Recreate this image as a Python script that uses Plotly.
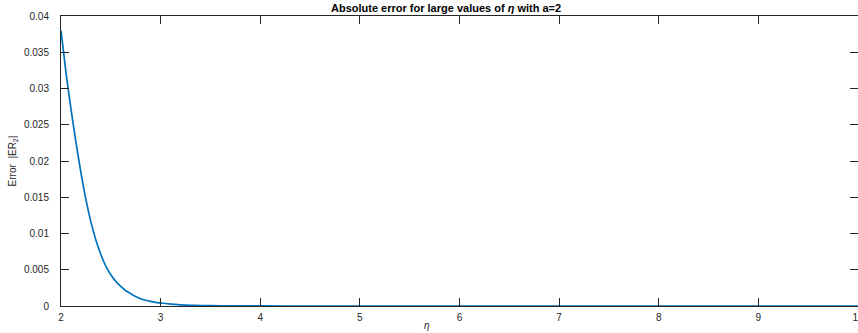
import plotly.graph_objects as go

# Absolute error |ER_2| vs eta (a=2)
eta = [2.00, 2.05, 2.10, 2.15, 2.20, 2.25, 2.30, 2.35, 2.40, 2.45, 2.50,
       2.55, 2.60, 2.65, 2.70, 2.75, 2.80, 2.85, 2.90, 2.95, 3.00,
       3.10, 3.20, 3.30, 3.40, 3.50, 3.75, 4.00, 4.50, 5.00, 6.00,
       7.00, 8.00, 9.00, 10.00]
err = [0.0380, 0.0322, 0.0272, 0.0226, 0.0184, 0.0147, 0.0116, 0.0091, 0.0071, 0.0055, 0.0043,
       0.0034, 0.0027, 0.0021, 0.0017, 0.0013, 0.0010, 0.00079, 0.00063, 0.00051, 0.00041,
       0.00026, 0.00016, 0.00010, 0.00006, 0.00004, 0.00001, 0.000004, 0.000001, 0.0, 0.0,
       0.0, 0.0, 0.0, 0.0]

x_ticks = [2, 3, 4, 5, 6, 7, 8, 9, 10]
y_ticks = [0, 0.005, 0.01, 0.015, 0.02, 0.025, 0.03, 0.035, 0.04]
y_tick_text = ["0", "0.005", "0.01", "0.015", "0.02", "0.025", "0.03", "0.035", "0.04"]

FONT = "Liberation Sans, Arial, Helvetica, sans-serif"
AX = "#262626"

fig = go.Figure()
fig.add_trace(go.Scatter(x=eta, y=err, mode="lines", line=dict(color="#0072BD", width=1.7),
                         line_shape="spline", line_smoothing=0.6,
                         showlegend=False, hoverinfo="x+y"))
# invisible helper trace so the right-hand tick axis is drawn
fig.add_trace(go.Scatter(x=[eta[0]], y=[err[0]], yaxis="y2", mode="markers",
                         marker=dict(opacity=0), showlegend=False, hoverinfo="skip"))

W, H = 858, 333
L, R, T, B = 61, 0, 16, 27

fig.update_layout(
    width=W, height=H,
    margin=dict(l=L, r=R, t=T, b=B, pad=0, autoexpand=False),
    paper_bgcolor="white", plot_bgcolor="white",
    font=dict(family=FONT, size=10, color=AX),
    xaxis=dict(range=[2, 10], tickvals=x_ticks, ticktext=[str(v) for v in x_ticks],
               ticks="inside", ticklen=8, tickwidth=1, tickcolor=AX,
               showline=True, linecolor=AX, linewidth=1, mirror="ticks",
               showgrid=False, zeroline=False, tickfont=dict(size=10, color=AX),
               ticklabelstandoff=2, ticklabeloverflow="allow", automargin=False),
    yaxis=dict(range=[0, 0.04], tickvals=y_ticks, ticktext=y_tick_text,
               ticks="inside", ticklen=8, tickwidth=1, tickcolor=AX,
               showline=True, linecolor=AX, linewidth=1, mirror=False,
               showgrid=False, zeroline=False, tickfont=dict(size=10, color=AX),
               ticklabelstandoff=9, automargin=False,
               title=dict(text="Error  |ER<sub>2</sub>|", font=dict(size=10, color=AX), standoff=5)),
    yaxis2=dict(range=[0, 0.04], tickvals=y_ticks, overlaying="y", side="right",
                ticks="inside", ticklen=8, tickwidth=1, tickcolor=AX, automargin=False,
                showline=False, showticklabels=False, showgrid=False, zeroline=False),
)

pw = W - L - R
ph = H - T - B

def px_x(p):
    return (p - L) / pw

def px_y(p):
    return (H - B - p) / ph

fig.add_annotation(text="<b>Absolute error for large values of <i>η</i> with a=2</b>",
                   x=px_x(446), y=px_y(8), xref="paper", yref="paper",
                   showarrow=False, font=dict(size=11, color="black", family=FONT),
                   xanchor="center", yanchor="middle")
fig.add_annotation(text="<i>η</i>",
                   x=px_x(427), y=px_y(325), xref="paper", yref="paper",
                   showarrow=False, font=dict(size=10, color=AX, family=FONT),
                   xanchor="center", yanchor="middle")

fig.write_html("out.html", config={"displayModeBar": False},
               post_script="document.body.style.margin='0';document.body.style.overflow='hidden';")
